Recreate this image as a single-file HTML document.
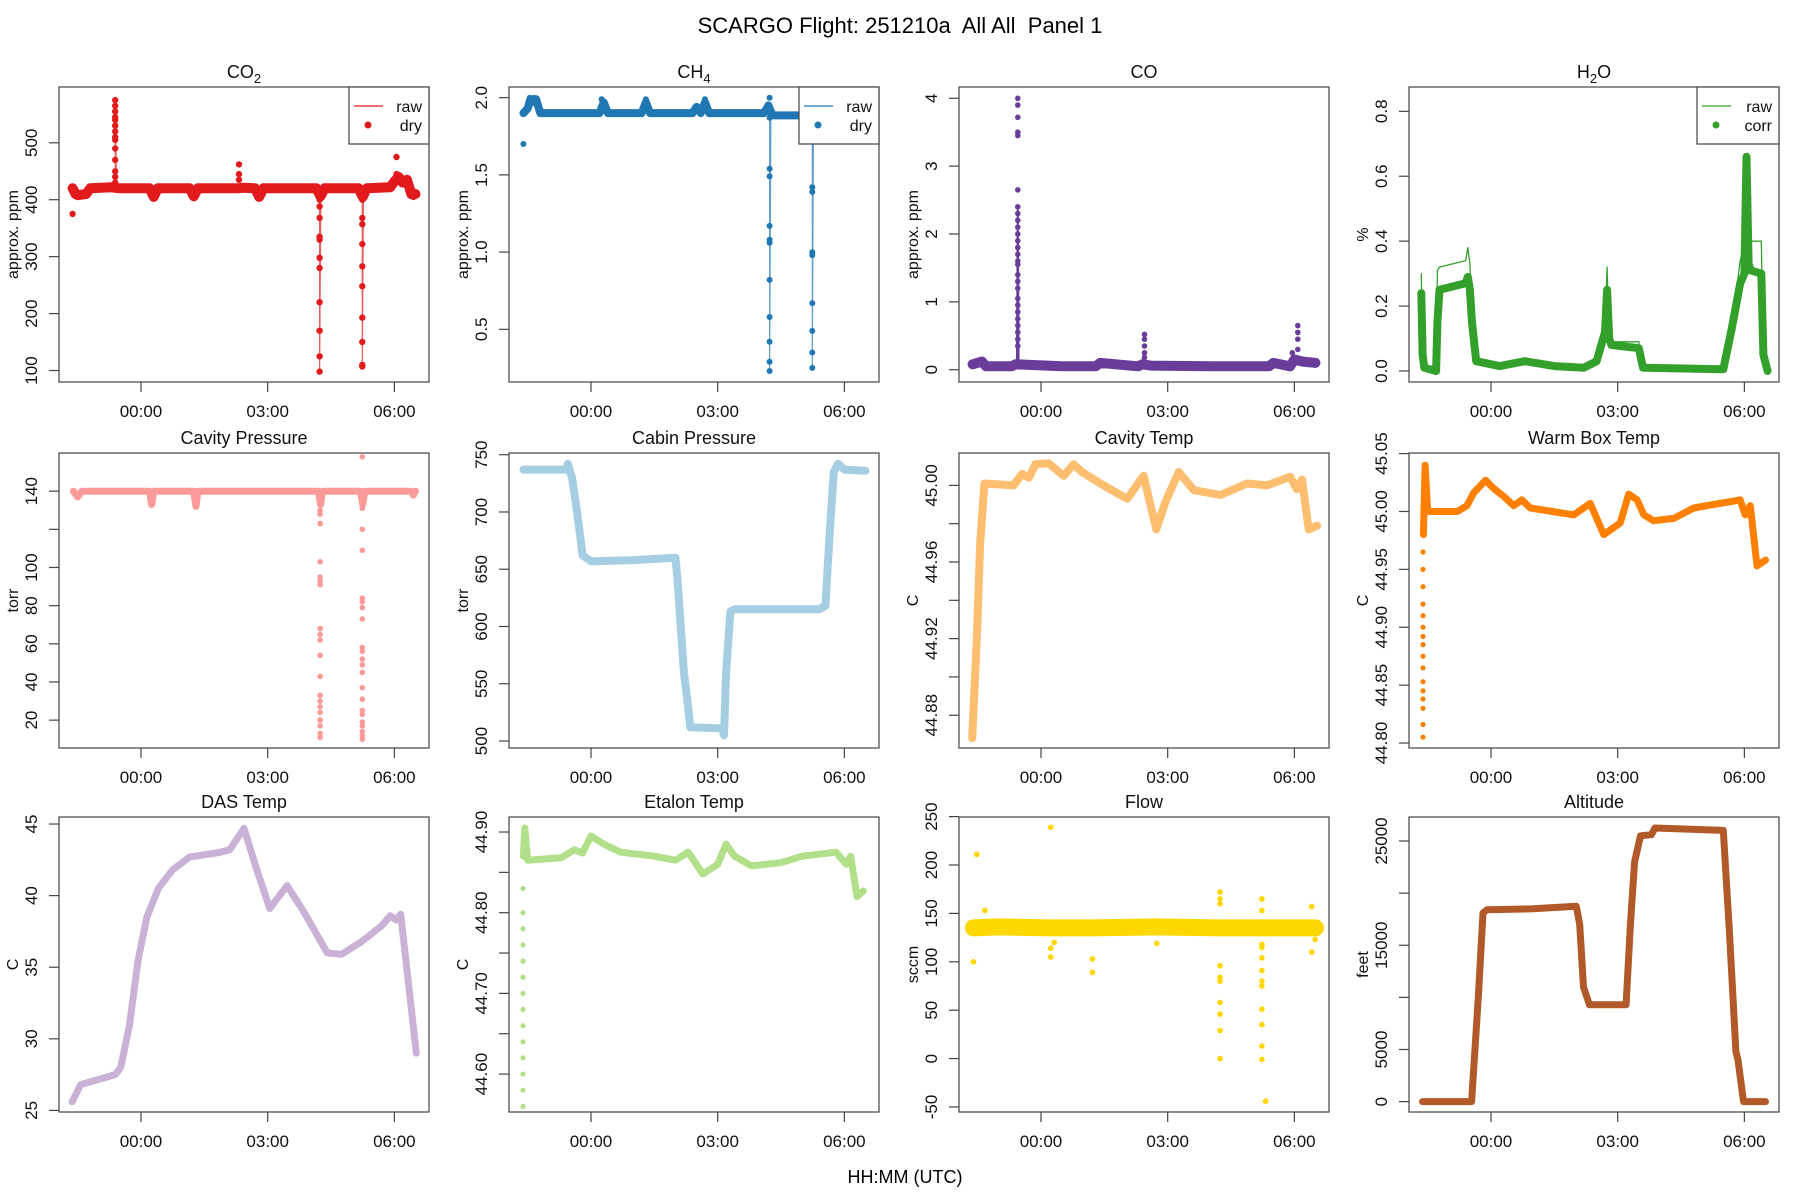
<!DOCTYPE html>
<html><head><meta charset="utf-8"><title>SCARGO Flight Panel 1</title>
<style>
html,body{margin:0;padding:0;background:#fff;}
svg{display:block;font-family:"Liberation Sans",Arial,sans-serif;}
</style></head>
<body>
<svg id="fig" width="1800" height="1200" viewBox="0 0 1800 1200" xmlns="http://www.w3.org/2000/svg">
<rect width="1800" height="1200" fill="#fff"/>
<text x="900" y="33" font-size="22" text-anchor="middle" xml:space="preserve">SCARGO Flight: 251210a  All All  Panel 1</text>
<text x="905" y="1183" font-size="18" text-anchor="middle">HH:MM (UTC)</text>
</svg>
<script>
// ---- shared x axis ----
const xTicks = [0, 3, 6];
const xTickLabels = ["00:00", "03:00", "06:00"];

// ---- CO2 ----
const co2T = [-1.62,-1.55,-1.5,-1.3,-1.2,-0.7,-0.62,-0.5,0.2,0.3,0.4,1.15,1.25,1.35,2.3,2.4,2.7,2.8,2.9,4.15,4.25,4.35,5.15,5.25,5.35,5.9,6.0,6.1,6.2,6.3,6.4,6.5];
const co2V = [420,410,408,410,420,422,421,420,420,405,420,420,406,420,420,421,420,405,420,420,406,420,420,405,420,422,432,440,430,435,410,410];
const co2PtT = [-1.62,-0.61,-0.61,-0.61,-0.61,-0.61,-0.61,-0.61,-0.61,-0.61,-0.61,-0.61,-0.61,-0.61,-0.61,2.32,2.32,2.32,4.23,4.23,4.23,4.23,4.23,4.23,4.23,4.23,4.23,4.23,4.23,5.24,5.24,5.24,5.24,5.24,5.24,5.24,5.24,5.24,5.24,6.05,6.05,6.05,6.45,6.5];
const co2PtV = [375,575,565,555,545,540,530,520,510,505,490,470,450,440,430,462,445,435,400,388,368,335,330,298,280,220,170,125,98,400,368,357,322,283,248,193,150,110,107,475,445,435,405,412];
const co2RawT = [4.2,4.23,4.23,4.26,5.21,5.24,5.24,5.27,-0.64,-0.61,-0.61,-0.58];
const co2RawV = [420,420,98,420,420,420,107,420,420,420,575,420];

// ---- CH4 ----
const ch4T = [-1.6,-1.5,-1.45,-1.4,-1.3,-1.2,0.2,0.3,0.4,1.2,1.3,1.4,2.4,2.5,2.6,2.7,2.8,4.1,4.2,4.3,6.5];
const ch4V = [1.90,1.93,1.98,1.97,1.99,1.90,1.90,1.97,1.90,1.90,1.97,1.90,1.90,1.94,1.90,1.97,1.90,1.90,1.95,1.885,1.885];
const ch4PtT = [-1.6,-1.45,-1.35,0.25,1.3,2.7,4.23,4.23,4.23,4.23,4.23,4.23,4.23,4.23,4.23,4.23,4.23,4.23,4.23,5.24,5.24,5.24,5.24,5.24,5.24,5.24,5.24];
const ch4PtV = [1.70,2.0,2.0,1.99,1.99,1.99,2.0,1.94,1.87,1.54,1.49,1.17,1.08,1.06,0.82,0.58,0.42,0.29,0.23,1.42,1.39,1.0,0.98,0.67,0.49,0.35,0.25];
const ch4RawT = [4.2,4.23,4.23,4.26,5.21,5.24,5.24,5.27];
const ch4RawV = [1.9,1.9,0.23,1.89,1.89,1.89,0.25,1.885];

// ---- CO ----
const coT = [-1.62,-1.4,-1.3,-0.7,-0.6,0.5,1.3,1.4,2.3,2.4,2.6,4.0,4.5,5.4,5.5,5.9,6.0,6.2,6.5];
const coV = [0.08,0.12,0.05,0.05,0.08,0.05,0.05,0.1,0.05,0.08,0.06,0.05,0.05,0.05,0.1,0.05,0.15,0.12,0.1];
const coPtT = [-0.55,-0.55,-0.55,-0.55,-0.55,-0.55,-0.55,-0.55,-0.55,-0.55,-0.55,-0.55,-0.55,-0.55,-0.55,-0.55,-0.55,-0.55,-0.55,-0.55,-0.55,-0.55,-0.55,-0.55,-0.55,-0.55,-0.55,2.45,2.45,2.45,2.45,2.45,6.08,6.08,6.08,6.08,5.95];
const coPtV = [4.0,3.9,3.72,3.5,3.45,2.65,2.4,2.3,2.2,2.1,2.0,1.9,1.8,1.7,1.6,1.55,1.4,1.3,1.2,1.05,0.95,0.85,0.75,0.65,0.55,0.45,0.35,0.52,0.45,0.35,0.25,0.18,0.65,0.55,0.45,0.3,0.25];
const coRawT = [-0.57,-0.55,-0.53];
const coRawV = [0.05,2.4,0.05];

// ---- H2O ----
const h2oT = [-1.65,-1.62,-1.58,-1.3,-1.27,-1.22,-0.6,-0.55,-0.5,-0.45,-0.35,0.2,0.8,1.5,2.2,2.5,2.7,2.75,2.8,2.85,3.5,3.6,5.5,5.7,5.9,6.0,6.05,6.1,6.15,6.4,6.45,6.55];
const h2oCorr = [0.24,0.05,0.01,0.0,0.15,0.25,0.27,0.29,0.25,0.15,0.03,0.015,0.03,0.015,0.01,0.03,0.12,0.25,0.1,0.08,0.07,0.01,0.005,0.13,0.27,0.30,0.66,0.33,0.31,0.30,0.05,0.0];
const h2oRaw = [0.30,0.05,0.01,0.0,0.31,0.32,0.34,0.38,0.33,0.15,0.03,0.015,0.03,0.015,0.01,0.03,0.13,0.32,0.1,0.09,0.09,0.01,0.005,0.14,0.34,0.39,0.42,0.40,0.40,0.40,0.05,0.0];

// ---- Cavity pressure ----
const cpT = [-1.6,-1.5,-1.4,0.2,0.25,0.3,1.25,1.3,1.35,4.2,4.25,4.3,5.2,5.25,5.3,6.4,6.45,6.5];
const cpV = [140,137,140,140,133,140,140,132,140,140,133,140,140,133,140,140,138,140];
const cpPtT = [4.24,4.24,4.24,4.24,4.24,4.24,4.24,4.24,4.24,4.24,4.24,4.24,4.24,4.24,4.24,4.24,4.24,4.24,4.24,4.24,4.24,4.24,5.24,5.24,5.24,5.24,5.24,5.24,5.24,5.24,5.24,5.24,5.24,5.24,5.24,5.24,5.24,5.24,5.24,5.24,5.24,5.24,5.24,5.24,5.24];
const cpPtV = [135,133,130,128,123,103,95,93,91,68,65,62,54,43,33,30,27,24,20,17,13,11,158,135,131,120,109,84,82,79,73,58,56,52,49,45,37,31,25,23,19,17,14,12,10];

// ---- Cabin pressure ----
const cabT = [-1.6,-0.6,-0.55,-0.45,-0.33,-0.2,0.0,1.0,2.0,2.05,2.2,2.3,2.35,3.1,3.15,3.2,3.3,3.4,5.4,5.55,5.65,5.75,5.85,6.0,6.5];
const cabV = [737,737,742,730,700,662,657,658,660,640,560,530,512,511,505,560,613,615,615,618,680,735,742,737,736];

// ---- Cavity temp ----
const ctT = [-1.63,-1.52,-1.44,-1.34,-0.65,-0.45,-0.29,-0.13,0.18,0.54,0.77,0.97,1.48,2.04,2.43,2.73,2.94,3.26,3.62,4.25,4.88,5.35,5.9,6.06,6.18,6.34,6.54];
const ctV = [44.868,44.92,44.97,45.001,45.0,45.006,45.004,45.011,45.0115,45.005,45.011,45.007,45.0,44.993,45.005,44.977,44.991,45.007,44.9975,44.995,45.001,45.0,45.0045,44.998,45.003,44.977,44.979];

// ---- Warm box temp ----
const wbT = [-1.6,-1.56,-1.5,-1.44,-0.8,-0.57,-0.41,-0.13,0.06,0.3,0.54,0.73,0.93,1.96,2.35,2.67,3.06,3.26,3.46,3.62,3.85,4.33,4.8,5.27,5.9,6.02,6.14,6.3,6.5];
const wbV = [44.98,45.04,45.0,45.0,45.0,45.005,45.016,45.027,45.02,45.013,45.005,45.01,45.003,44.997,45.007,44.98,44.99,45.015,45.01,44.997,44.992,44.994,45.003,45.006,45.01,44.997,45.005,44.953,44.958];
const wbPtT = [-1.61,-1.61,-1.61,-1.61,-1.61,-1.61,-1.61,-1.61,-1.61,-1.61,-1.61,-1.61,-1.61,-1.61,-1.61,-1.61,-1.61,-1.61];
const wbPtV = [44.805,44.816,44.83,44.838,44.845,44.853,44.865,44.875,44.885,44.892,44.9,44.91,44.92,44.935,44.95,44.965,44.98,44.99];

// ---- DAS temp ----
const dasT = [-1.63,-1.43,-0.61,-0.48,-0.27,-0.07,0.14,0.41,0.75,1.15,1.83,2.1,2.44,2.72,3.05,3.46,3.87,4.41,4.75,5.23,5.7,5.9,6.04,6.15,6.52];
const dasV = [25.6,26.8,27.5,28.0,31,35.5,38.5,40.5,41.8,42.7,43.0,43.2,44.7,42.0,39.1,40.7,38.8,36.0,35.9,36.8,37.9,38.6,38.3,38.7,29.0];

// ---- Etalon temp ----
const etT = [-1.6,-1.57,-1.5,-0.7,-0.4,-0.2,0.0,0.3,0.7,1.5,2.0,2.3,2.65,3.0,3.2,3.4,3.8,4.5,5.0,5.8,6.05,6.15,6.3,6.45];
const etV = [44.87,44.905,44.865,44.868,44.878,44.874,44.895,44.885,44.875,44.87,44.865,44.875,44.848,44.86,44.885,44.87,44.858,44.862,44.87,44.875,44.86,44.87,44.82,44.827];
const etPtT = [-1.61,-1.61,-1.61,-1.61,-1.61,-1.61,-1.61,-1.61,-1.61,-1.61,-1.61,-1.61,-1.61,-1.61];
const etPtV = [44.56,44.58,44.6,44.62,44.64,44.66,44.68,44.7,44.72,44.74,44.76,44.78,44.8,44.83];

// ---- Flow ----
const flT = [-1.6,-1.0,0.2,1.2,2.7,4.2,5.2,6.0,6.5];
const flV = [135,136,135,135,136,135,135,135,135];
const flPtT = [-1.52,-1.6,-1.33,0.23,0.23,0.23,0.31,1.22,1.22,2.74,4.24,4.24,4.24,4.24,4.24,4.24,4.24,4.24,4.24,4.24,5.23,5.23,5.23,5.23,5.23,5.23,5.23,5.23,5.23,5.23,5.23,5.23,5.32,6.41,6.41,6.49];
const flPtV = [211,100,153,239,114,105,120,103,89,119,172,165,160,96,84,80,58,46,29,0,165,153,118,115,104,91,80,75,51,35,13,-1,-44,157,110,123];

// ---- Altitude ----
const altT = [-1.62,-0.46,-0.3,-0.19,-0.1,1.0,2.02,2.1,2.19,2.33,3.2,3.3,3.4,3.54,3.8,3.88,5.5,5.65,5.8,5.85,5.98,6.5];
const altV = [0,0,10000,18100,18400,18500,18750,17000,11000,9300,9300,17000,23000,25500,25600,26250,26020,16000,4800,4000,0,0];

const NS = "http://www.w3.org/2000/svg";
const svg = document.getElementById("fig");
const colL = [59, 509, 959, 1409];
const rowT = [87, 453, 817];
const PW = 370, PH = 295;
const XMIN = -1.942, XMAX = 6.82;

function mk(tag, attrs, parent) {
  const e = document.createElementNS(NS, tag);
  for (const k in attrs) e.setAttribute(k, attrs[k]);
  (parent || svg).appendChild(e);
  return e;
}

const panels = [
  {c:0,r:0,name:"co2",title:"CO",sub:"2",ylab:"approx. ppm",ymin:79.8,ymax:598,ticks:[100,200,300,400,500],labels:["100","200","300","400","500"],col:"#e31a1c",
   lines:[[co2RawT,co2RawV,1.2,0.7],[co2T,co2V,10,1]],pts:[co2PtT,co2PtV,3.2],legend:["raw","dry"]},
  {c:1,r:0,name:"ch4",title:"CH",sub:"4",ylab:"approx. ppm",ymin:0.159,ymax:2.069,ticks:[0.5,1.0,1.5,2.0],labels:["0.5","1.0","1.5","2.0"],col:"#1f78b4",
   lines:[[ch4RawT,ch4RawV,1.2,0.7],[ch4T,ch4V,8,1]],pts:[ch4PtT,ch4PtV,3],legend:["raw","dry"]},
  {c:2,r:0,name:"co",title:"CO",ylab:"approx. ppm",ymin:-0.181,ymax:4.166,ticks:[0,1,2,3,4],labels:["0","1","2","3","4"],col:"#6a3d9a",
   lines:[[coRawT,coRawV,2,1],[coT,coV,10,1]],pts:[coPtT,coPtV,2.8]},
  {c:3,r:0,name:"h2o",title:"H",sub:"2",post:"O",ylab:"%",ymin:-0.034,ymax:0.875,ticks:[0,0.2,0.4,0.6,0.8],labels:["0.0","0.2","0.4","0.6","0.8"],col:"#33a02c",
   lines:[[h2oT,h2oRaw,1.3,1],[h2oT,h2oCorr,8,1]],legend:["raw","corr"]},
  {c:0,r:1,name:"cavity-pressure",title:"Cavity Pressure",ylab:"torr",ymin:5.4,ymax:160,ticks:[20,40,60,80,100,120,140],labels:["20","40","60","80","100","","140"],col:"#fb9a99",
   lines:[[cpT,cpV,7,1]],pts:[cpPtT,cpPtV,2.8]},
  {c:1,r:1,name:"cabin-pressure",title:"Cabin Pressure",ylab:"torr",ymin:493.9,ymax:751.5,ticks:[500,550,600,650,700,750],labels:["500","550","600","650","700","750"],col:"#a6cee3",
   lines:[[cabT,cabV,8,1]]},
  {c:2,r:1,name:"cavity-temp",title:"Cavity Temp",ylab:"C",ymin:44.8629,ymax:45.0169,ticks:[44.88,44.90,44.92,44.94,44.96,44.98,45.00],labels:["44.88","","44.92","","44.96","","45.00"],col:"#fdbf6f",
   lines:[[ctT,ctV,8,1]]},
  {c:3,r:1,name:"warm-box-temp",title:"Warm Box Temp",ylab:"C",ymin:44.7957,ymax:45.0505,ticks:[44.80,44.85,44.90,44.95,45.00,45.05],labels:["44.80","44.85","44.90","44.95","45.00","45.05"],col:"#ff7f00",
   lines:[[wbT,wbV,7,1]],pts:[wbPtT,wbPtV,2.6]},
  {c:0,r:2,name:"das-temp",title:"DAS Temp",ylab:"C",ymin:24.89,ymax:45.49,ticks:[25,30,35,40,45],labels:["25","30","35","40","45"],col:"#cab2d6",
   lines:[[dasT,dasV,7,1]]},
  {c:1,r:2,name:"etalon-temp",title:"Etalon Temp",ylab:"C",ymin:44.553,ymax:44.9186,ticks:[44.60,44.65,44.70,44.75,44.80,44.85,44.90],labels:["44.60","","44.70","","44.80","","44.90"],col:"#b2df8a",
   lines:[[etT,etV,7,1]],pts:[etPtT,etPtV,2.6]},
  {c:2,r:2,name:"flow",title:"Flow",ylab:"sccm",ymin:-55.2,ymax:249.6,ticks:[-50,0,50,100,150,200,250],labels:["-50","0","50","100","150","200","250"],col:"#ffd700",
   lines:[[flT,flV,17,1]],pts:[flPtT,flPtV,2.8]},
  {c:3,r:2,name:"altitude",title:"Altitude",ylab:"feet",ymin:-995,ymax:27302,ticks:[0,5000,10000,15000,20000,25000],labels:["0","5000","","15000","","25000"],col:"#b15928",
   lines:[[altT,altV,7,1]]}
];

panels.forEach(p => {
  const L = colL[p.c], T = rowT[p.r];
  const g = mk("g", {});
  
  
  const xs = t => L + (t - XMIN) / (XMAX - XMIN) * PW;
  const ys = v => T + (p.ymax - v) / (p.ymax - p.ymin) * PH;
  const cp = mk("clipPath", {id: "clip-" + p.name}, g);
  mk("rect", {x: L, y: T, width: PW, height: PH}, cp);
  const dg = mk("g", {"clip-path": "url(#clip-" + p.name + ")"}, g);
  
  
  p.lines.forEach(ln => {
    const [tt, vv, w, op] = ln;
    const d = tt.map((t, i) => (i ? "L" : "M") + xs(t).toFixed(1) + " " + ys(vv[i]).toFixed(1)).join(" ");
    const path = mk("path", {d: d, fill: "none", stroke: p.col, "stroke-width": w, "stroke-linejoin": "round", "stroke-linecap": "round", opacity: op}, dg);
    
    
  });
  if (p.pts) {
    const [tt, vv, r] = p.pts;
    tt.forEach((t, i) => {
      const c = mk("circle", {cx: xs(t).toFixed(1), cy: ys(vv[i]).toFixed(1), r: r, fill: p.col}, dg);
      
      
    });
  }
  const box = mk("rect", {x: L, y: T, width: PW, height: PH, fill: "none", stroke: "#444", "stroke-width": 1.2}, g);
  
  
  xTicks.forEach((t, i) => {
    const x = xs(t);
    mk("line", {x1: x, y1: T + PH, x2: x, y2: T + PH + 10, stroke: "#444", "stroke-width": 1.2}, g);
    const tl = mk("text", {x: x, y: T + PH + 35, "font-size": 17, "text-anchor": "middle", fill: "#111"}, g);
    tl.textContent = xTickLabels[i];
    
    
  });
  p.ticks.forEach((v, i) => {
    const y = ys(v);
    mk("line", {x1: L - 10, y1: y, x2: L, y2: y, stroke: "#444", "stroke-width": 1.2}, g);
    if (p.labels[i]) {
      const tl = mk("text", {x: 0, y: 0, "font-size": 17, "text-anchor": "middle", fill: "#111", transform: "translate(" + (L - 22) + "," + y.toFixed(1) + ") rotate(-90)"}, g);
      tl.textContent = p.labels[i];
      
      
    }
  });
  const yl = mk("text", {x: 0, y: 0, "font-size": 16, "text-anchor": "middle", fill: "#111", transform: "translate(" + (L - 41) + "," + (T + PH / 2) + ") rotate(-90)"}, g);
  yl.textContent = p.ylab;
  
  
  const tt = mk("text", {x: L + PW / 2, y: T - 9, "font-size": 18, "text-anchor": "middle", fill: "#111"}, g);
  
  
  tt.appendChild(document.createTextNode(p.title));
  if (p.sub) {
    const s = mk("tspan", {"font-size": 13, dy: 5}, tt);
    s.textContent = p.sub;
    if (p.post) {
      const s2 = mk("tspan", {dy: -5}, tt);
      s2.textContent = p.post;
    }
  }
  if (p.legend) {
    const lw = p.legend[1] === "corr" ? 82 : 80;
    const lx = L + PW - lw, ly = T;
    const lg = mk("g", {}, g);
    
    
    mk("rect", {x: lx, y: ly, width: lw, height: 57, fill: "#fff", stroke: "#444", "stroke-width": 1.2}, lg);
    mk("line", {x1: lx + 5, y1: ly + 19, x2: lx + 34, y2: ly + 19, stroke: p.col, "stroke-width": 1.2}, lg);
    mk("circle", {cx: lx + 19, cy: ly + 38, r: 3.5, fill: p.col}, lg);
    const t1 = mk("text", {x: lx + lw - 7, y: ly + 25, "font-size": 16, "text-anchor": "end", fill: "#111"}, lg);
    t1.textContent = p.legend[0];
    
    
    const t2 = mk("text", {x: lx + lw - 7, y: ly + 44, "font-size": 16, "text-anchor": "end", fill: "#111"}, lg);
    t2.textContent = p.legend[1];
    
    
  }
});
</script>
</body></html>
